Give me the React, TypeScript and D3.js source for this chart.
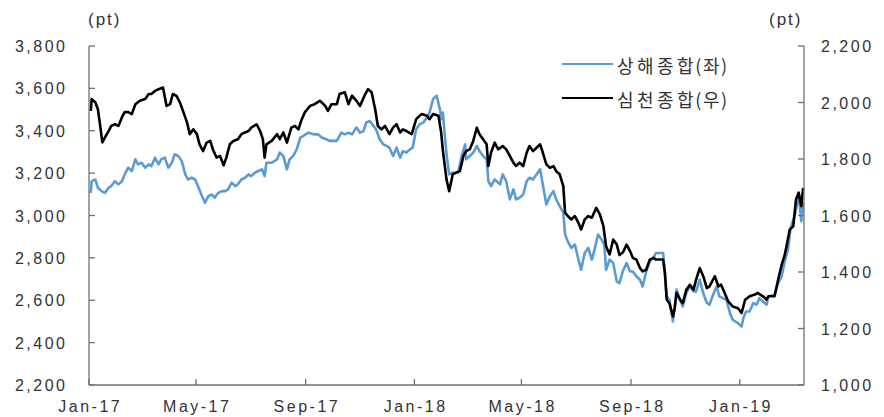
import React from "react";
import * as d3 from "d3";

const shDates = ["2017-01-03","2017-01-04","2017-01-08","2017-01-11","2017-01-15","2017-01-19","2017-01-23","2017-01-26","2017-01-30","2017-02-03","2017-02-07","2017-02-10","2017-02-14","2017-02-18","2017-02-22","2017-02-25","2017-03-01","2017-03-05","2017-03-09","2017-03-12","2017-03-16","2017-03-20","2017-03-23","2017-03-27","2017-03-31","2017-04-04","2017-04-07","2017-04-11","2017-04-15","2017-04-19","2017-04-22","2017-04-26","2017-04-30","2017-05-04","2017-05-07","2017-05-11","2017-05-15","2017-05-19","2017-05-22","2017-05-26","2017-05-30","2017-06-03","2017-06-06","2017-06-10","2017-06-14","2017-06-17","2017-06-21","2017-06-25","2017-06-29","2017-07-02","2017-07-06","2017-07-10","2017-07-14","2017-07-15","2017-07-17","2017-07-19","2017-07-25","2017-07-31","2017-08-03","2017-08-07","2017-08-11","2017-08-14","2017-08-18","2017-08-22","2017-08-26","2017-08-29","2017-09-04","2017-09-10","2017-09-15","2017-09-19","2017-09-24","2017-09-28","2017-10-06","2017-10-11","2017-10-15","2017-10-19","2017-10-23","2017-10-28","2017-11-01","2017-11-05","2017-11-08","2017-11-12","2017-11-16","2017-11-19","2017-11-23","2017-11-27","2017-12-01","2017-12-04","2017-12-08","2017-12-12","2017-12-16","2017-12-19","2017-12-23","2017-12-27","2017-12-30","2018-01-03","2018-01-07","2018-01-11","2018-01-15","2018-01-18","2018-01-22","2018-01-26","2018-01-30","2018-01-31","2018-02-02","2018-02-04","2018-02-06","2018-02-09","2018-02-13","2018-02-19","2018-02-23","2018-02-27","2018-02-28","2018-03-04","2018-03-08","2018-03-12","2018-03-15","2018-03-19","2018-03-23","2018-03-25","2018-03-28","2018-04-01","2018-04-07","2018-04-10","2018-04-14","2018-04-18","2018-04-22","2018-04-25","2018-04-29","2018-05-03","2018-05-07","2018-05-10","2018-05-14","2018-05-18","2018-05-22","2018-05-25","2018-05-29","2018-06-02","2018-06-06","2018-06-09","2018-06-13","2018-06-17","2018-06-19","2018-06-22","2018-06-26","2018-06-30","2018-07-04","2018-07-07","2018-07-11","2018-07-15","2018-07-19","2018-07-22","2018-07-26","2018-07-30","2018-08-02","2018-08-04","2018-08-08","2018-08-12","2018-08-16","2018-08-19","2018-08-23","2018-08-27","2018-08-31","2018-09-03","2018-09-07","2018-09-11","2018-09-14","2018-09-18","2018-09-22","2018-09-26","2018-09-29","2018-10-07","2018-10-09","2018-10-11","2018-10-14","2018-10-18","2018-10-20","2018-10-22","2018-10-26","2018-10-29","2018-11-02","2018-11-06","2018-11-10","2018-11-13","2018-11-17","2018-11-21","2018-11-25","2018-11-28","2018-12-02","2018-12-06","2018-12-09","2018-12-13","2018-12-17","2018-12-21","2018-12-24","2018-12-30","2019-01-03","2019-01-05","2019-01-08","2019-01-12","2019-01-16","2019-01-20","2019-01-23","2019-01-27","2019-01-31","2019-02-02","2019-02-09","2019-02-13","2019-02-17","2019-02-20","2019-02-24","2019-02-27","2019-03-04","2019-03-08","2019-03-11","2019-03-13"];
const shValues = [3107,3162,3170,3131,3115,3107,3131,3139,3162,3147,3162,3194,3226,3210,3265,3241,3249,3226,3241,3233,3273,3241,3265,3273,3226,3249,3289,3281,3257,3194,3170,3178,3170,3131,3099,3060,3091,3099,3084,3107,3115,3115,3123,3155,3139,3147,3170,3178,3194,3186,3202,3210,3218,3210,3186,3249,3249,3265,3297,3281,3218,3265,3281,3312,3368,3375,3391,3383,3383,3368,3360,3352,3352,3391,3383,3391,3383,3415,3391,3399,3439,3446,3423,3407,3360,3336,3328,3320,3281,3320,3273,3304,3297,3312,3320,3407,3431,3439,3462,3486,3549,3565,3494,3454,3486,3383,3289,3194,3202,3202,3281,3336,3265,3281,3297,3328,3304,3281,3265,3162,3139,3170,3147,3194,3162,3076,3123,3076,3084,3099,3162,3178,3170,3194,3218,3147,3052,3091,3115,3076,3044,3013,2910,2878,2847,2863,2792,2744,2823,2847,2792,2839,2910,2886,2863,2744,2792,2776,2689,2681,2740,2776,2736,2736,2713,2697,2665,2736,2784,2800,2823,2823,2721,2618,2602,2500,2571,2650,2602,2571,2634,2665,2642,2642,2697,2634,2587,2579,2626,2665,2618,2610,2602,2539,2508,2492,2476,2516,2547,2547,2587,2579,2610,2594,2579,2618,2626,2681,2713,2776,2839,2942,3005,3099,2973,3060];

const szDates = ["2017-01-03","2017-01-04","2017-01-08","2017-01-11","2017-01-13","2017-01-16","2017-01-19","2017-01-23","2017-01-26","2017-01-30","2017-02-03","2017-02-07","2017-02-10","2017-02-14","2017-02-18","2017-02-22","2017-02-27","2017-03-05","2017-03-09","2017-03-12","2017-03-16","2017-03-20","2017-03-25","2017-03-29","2017-04-02","2017-04-05","2017-04-09","2017-04-13","2017-04-17","2017-04-21","2017-04-24","2017-04-28","2017-05-02","2017-05-05","2017-05-09","2017-05-13","2017-05-17","2017-05-20","2017-05-24","2017-05-28","2017-06-01","2017-06-04","2017-06-08","2017-06-12","2017-06-17","2017-06-21","2017-06-25","2017-06-29","2017-07-02","2017-07-08","2017-07-12","2017-07-15","2017-07-17","2017-07-19","2017-07-25","2017-07-31","2017-08-03","2017-08-07","2017-08-11","2017-08-16","2017-08-20","2017-08-24","2017-08-27","2017-08-31","2017-09-06","2017-09-11","2017-09-17","2017-09-23","2017-09-26","2017-09-30","2017-10-06","2017-10-09","2017-10-15","2017-10-19","2017-10-23","2017-10-28","2017-11-01","2017-11-06","2017-11-10","2017-11-14","2017-11-18","2017-11-21","2017-11-25","2017-11-29","2017-12-04","2017-12-08","2017-12-12","2017-12-16","2017-12-19","2017-12-23","2017-12-29","2018-01-03","2018-01-09","2018-01-15","2018-01-18","2018-01-22","2018-01-28","2018-01-31","2018-02-02","2018-02-06","2018-02-09","2018-02-13","2018-02-17","2018-02-21","2018-02-25","2018-02-28","2018-03-04","2018-03-08","2018-03-12","2018-03-15","2018-03-19","2018-03-23","2018-03-25","2018-03-28","2018-04-01","2018-04-05","2018-04-10","2018-04-14","2018-04-18","2018-04-22","2018-04-25","2018-04-29","2018-05-03","2018-05-07","2018-05-10","2018-05-14","2018-05-18","2018-05-22","2018-05-25","2018-05-29","2018-06-02","2018-06-06","2018-06-09","2018-06-13","2018-06-17","2018-06-19","2018-06-22","2018-06-26","2018-06-30","2018-07-04","2018-07-07","2018-07-11","2018-07-15","2018-07-19","2018-07-24","2018-07-28","2018-08-01","2018-08-04","2018-08-08","2018-08-12","2018-08-16","2018-08-19","2018-08-23","2018-08-27","2018-08-31","2018-09-03","2018-09-07","2018-09-11","2018-09-14","2018-09-18","2018-09-22","2018-09-26","2018-09-29","2018-10-07","2018-10-09","2018-10-11","2018-10-14","2018-10-18","2018-10-20","2018-10-22","2018-10-26","2018-10-29","2018-11-02","2018-11-06","2018-11-10","2018-11-13","2018-11-17","2018-11-21","2018-11-25","2018-11-28","2018-12-04","2018-12-08","2018-12-11","2018-12-15","2018-12-19","2018-12-24","2018-12-30","2019-01-03","2019-01-07","2019-01-12","2019-01-18","2019-01-21","2019-01-27","2019-01-31","2019-02-02","2019-02-09","2019-02-13","2019-02-17","2019-02-20","2019-02-22","2019-02-26","2019-03-02","2019-03-05","2019-03-08","2019-03-11","2019-03-13"];
const szValues = [1970,2012,2001,1976,1930,1859,1877,1899,1917,1923,1917,1948,1966,1966,1959,1994,2006,2012,2030,2030,2041,2047,2053,1988,1994,2030,2024,2000,1965,1929,1888,1905,1888,1852,1828,1858,1864,1834,1805,1811,1778,1805,1852,1864,1870,1888,1894,1899,1911,1923,1899,1870,1805,1852,1864,1888,1870,1894,1858,1911,1917,1905,1935,1965,1988,1994,2006,1988,1970,1994,1994,2030,2036,1994,2024,2006,1988,2024,2047,2036,1976,1917,1905,1917,1888,1911,1923,1894,1905,1899,1888,1941,1959,1953,1941,1959,1953,1894,1828,1728,1686,1746,1752,1757,1811,1828,1834,1864,1911,1888,1870,1852,1775,1823,1858,1834,1846,1834,1811,1787,1775,1787,1775,1823,1846,1828,1840,1852,1823,1781,1769,1775,1757,1746,1704,1610,1598,1586,1598,1574,1550,1586,1598,1592,1627,1604,1562,1491,1462,1515,1497,1460,1470,1497,1473,1450,1444,1414,1402,1408,1444,1450,1444,1444,1397,1302,1290,1243,1272,1326,1302,1290,1337,1355,1337,1373,1414,1385,1343,1349,1385,1349,1355,1326,1296,1278,1272,1255,1302,1314,1320,1326,1314,1302,1314,1314,1373,1426,1456,1485,1550,1562,1657,1681,1633,1698];

const xTickDates = ["2017-01-01","2017-05-01","2017-09-01","2018-01-01","2018-05-01","2018-09-01","2019-01-01"];
const xTickLabels = ["Jan-17","May-17","Sep-17","Jan-18","May-18","Sep-18","Jan-19"];
const leftTicks = [2200,2400,2600,2800,3000,3200,3400,3600,3800];
const rightTicks = [1000,1200,1400,1600,1800,2000,2200];
const seriesNames = ["상해종합(좌)","심천종합(우)"];
const seriesColors = ["#5B9BD5","#000000"];

const W = 884, H = 417;
const L = 89, R = 804, T = 46, B = 385;
const parse = d3.timeParse("%Y-%m-%d");
const fmt = d3.format(",");

export default function App() {
  const x = d3.scaleTime().domain([parse("2017-01-01")!, parse("2019-03-14")!]).range([L, R]);
  const yL = d3.scaleLinear().domain([2200, 3800]).range([B, T]);
  const yR = d3.scaleLinear().domain([1000, 2200]).range([B, T]);
  const sh = shDates.map((d, i) => ({ d: parse(d)!, v: shValues[i] }));
  const sz = szDates.map((d, i) => ({ d: parse(d)!, v: szValues[i] }));
  const lineL = d3.line<{ d: Date; v: number }>().x(p => x(p.d)).y(p => yL(p.v));
  const lineR = d3.line<{ d: Date; v: number }>().x(p => x(p.d)).y(p => yR(p.v));
  const font = "'Liberation Sans', Arial, sans-serif";
  const kfont = "'Noto Sans CJK KR', 'Liberation Sans', sans-serif";
  const axisColor = "#707070";
  const textColor = "#333333";
  const ls = 2.5;
  return (
    <svg width={W} height={H} style={{ position: "absolute", left: 0, top: 0, background: "#fff" }}>
      <rect x={0} y={0} width={W} height={H} fill="#fff" />
      <path d={lineL(sh) || ""} fill="none" stroke={seriesColors[0]} strokeWidth={2.6} strokeLinejoin="round" />
      <path d={lineR(sz) || ""} fill="none" stroke={seriesColors[1]} strokeWidth={2.6} strokeLinejoin="round" />
      <line x1={L} x2={L} y1={T} y2={B} stroke={axisColor} strokeWidth={1.3} />
      <line x1={R} x2={R} y1={T} y2={B} stroke={axisColor} strokeWidth={1.3} />
      <line x1={L} x2={R} y1={B} y2={B} stroke={axisColor} strokeWidth={1.3} />
      {leftTicks.map(t => (
        <g key={"l" + t}>
          <line x1={L} x2={L + 6} y1={yL(t)} y2={yL(t)} stroke={axisColor} strokeWidth={1.3} />
          <text x={65 + ls} y={yL(t) + 6} textAnchor="end" fontFamily={font} fontSize={16} letterSpacing={ls} fill={textColor}>{fmt(t)}</text>
        </g>
      ))}
      {rightTicks.map(t => (
        <g key={"r" + t}>
          <line x1={R - 6} x2={R} y1={yR(t)} y2={yR(t)} stroke={axisColor} strokeWidth={1.3} />
          <text x={821} y={yR(t) + 6} textAnchor="start" fontFamily={font} fontSize={16} letterSpacing={ls} fill={textColor}>{fmt(t)}</text>
        </g>
      ))}
      {xTickDates.map((d, i) => {
        const xx = x(parse(d)!);
        return (
          <g key={"x" + d}>
            <line x1={xx} x2={xx} y1={B - 6} y2={B} stroke={axisColor} strokeWidth={1.3} />
            <text x={xx + ls / 2} y={412} textAnchor="middle" fontFamily={font} fontSize={16} letterSpacing={ls} fill={textColor}>{xTickLabels[i]}</text>
          </g>
        );
      })}
      <text x={88} y={25} fontFamily={font} fontSize={17} letterSpacing={2} fill={textColor}>(pt)</text>
      <text x={769} y={25} fontFamily={font} fontSize={17} letterSpacing={2} fill={textColor}>(pt)</text>
      {seriesNames.map((n, i) => {
        const k = n.indexOf("(");
        return (
          <g key={n}>
            <line x1={562} x2={613} y1={64 + i * 34} y2={64 + i * 34} stroke={seriesColors[i]} strokeWidth={2.2} />
            <text x={617} y={65 + i * 34} dominantBaseline="central" fontFamily={kfont} fontSize={18} fill={textColor}>
              <tspan letterSpacing={3.4}>{n.slice(0, k)}</tspan>
              <tspan dx={-1.5} letterSpacing={1.5}>{n.slice(k)}</tspan>
            </text>
          </g>
        );
      })}
    </svg>
  );
}
